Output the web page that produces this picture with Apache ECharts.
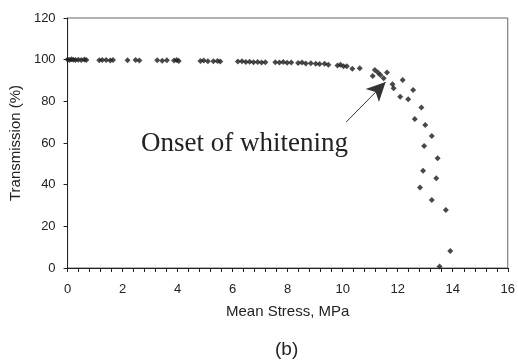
<!DOCTYPE html>
<html>
<head>
<meta charset="utf-8">
<script src="https://cdn.jsdelivr.net/npm/echarts@6/dist/echarts.min.js"></script>
<style>
  html, body { margin: 0; padding: 0; background: #fff; }
  #main { width: 518px; height: 363px; }
</style>
</head>
<body>
<div id="main"></div>
<script>
// mean stress (MPa)
var stress = [
  0, 0.07, 0.14, 0.21, 0.29, 0.39, 0.5, 0.61, 0.68,
  1.15, 1.26, 1.4, 1.55, 1.65,
  2.18, 2.47, 2.61,
  3.26, 3.44, 3.61, 3.87, 3.97, 4.04,
  4.83, 4.95, 5.1, 5.3, 5.45, 5.55,
  6.19, 6.34, 6.48, 6.62, 6.76, 6.91, 7.05, 7.19,
  7.55, 7.7, 7.84, 7.98, 8.13,
  8.38, 8.52, 8.66, 8.84, 9.02, 9.16, 9.34, 9.48,
  9.81, 9.92, 10.03, 10.15, 10.35, 10.62,
  11.17, 11.28, 11.09, 11.37, 11.61, 11.49,
  11.81, 11.85, 12.18, 12.56, 12.09, 12.38,
  12.86, 12.62, 13.0, 13.24, 12.96, 13.45, 12.92, 13.4, 12.81, 13.24, 13.75, 13.91, 13.52
];
// transmission (%)
var transmission = [
  100.1, 99.9, 100.2, 100, 99.8, 100, 99.9, 100.1, 99.8,
  99.7, 99.9, 99.8, 99.6, 99.8,
  99.7, 99.8, 99.6,
  99.7, 99.5, 99.7, 99.6, 99.8, 99.4,
  99.4, 99.6, 99.3, 99.2, 99.4, 99.1,
  99.1, 99.2, 98.9, 99.0, 98.8, 98.9, 98.7, 98.8,
  98.8, 98.6, 98.9, 98.5, 98.7,
  98.4, 98.6, 98.2, 98.3, 98.0, 97.9, 98.1, 97.6,
  97.2, 97.6, 96.8, 96.9, 95.6, 95.9,
  95.1, 93.9, 92.2, 92.7, 93.8, 91.1,
  88.2, 86.3, 90.3, 85.5, 82.2, 81.0,
  77.0, 71.5, 68.7, 63.4, 58.6, 52.7, 46.7, 43.1, 38.7, 32.6, 27.8, 8.2, 0.7
];
// annotation arrow: tail and tip in data units
var arrowTail = [10.13, 70.1];
var arrowTip = [11.56, 89.3];
var noteText = 'Onset of whitening';
var panelText = '(b)';

var points = stress.map(function (x, i) { return [x, transmission[i]]; });

var sans = "'Liberation Sans', Arial, sans-serif";
var chart = echarts.init(document.getElementById('main'));

chart.setOption({
  animation: false,
  grid: {
    left: 64, right: 7, top: 18, bottom: 95,
    show: true, borderColor: '#666', borderWidth: 1
  },
  xAxis: {
    type: 'value',
    min: 0, max: 16, interval: 2,
    name: 'Mean Stress, MPa',
    nameLocation: 'middle',
    nameGap: 36,
    nameTextStyle: { fontFamily: sans, fontSize: 15, color: '#222' },
    axisLine: { onZero: false, lineStyle: { color: '#222', width: 1 } },
    axisTick: { show: true, length: 4, lineStyle: { color: '#222' } },
    minorTick: { show: true, splitNumber: 5, length: 4, lineStyle: { color: '#222' } },
    axisLabel: { fontFamily: sans, fontSize: 13, color: '#222', margin: 15 },
    splitLine: { show: false }
  },
  yAxis: {
    type: 'value',
    min: 0, max: 120, interval: 20,
    name: 'Transmission (%)',
    nameLocation: 'middle',
    nameGap: 35,
    nameTextStyle: { fontFamily: sans, fontSize: 15, color: '#222' },
    axisLine: { show: true, lineStyle: { color: '#222', width: 1 } },
    axisTick: { show: true, length: 4, lineStyle: { color: '#222' } },
    axisLabel: { fontFamily: sans, fontSize: 13, color: '#222', margin: 12 },
    splitLine: { show: false }
  },
  series: [{
    type: 'scatter',
    data: points,
    symbol: 'diamond',
    symbolSize: 6,
    itemStyle: { color: '#1c1c1c' },
    markLine: {
      silent: true,
      symbol: ['none', 'arrow'],
      symbolSize: [14, 19],
      label: { show: false },
      lineStyle: { color: '#333', width: 1, type: 'solid' },
      data: [[{ coord: arrowTail }, { coord: arrowTip }]]
    }
  }],
  graphic: [
    {
      type: 'text', left: 141, top: 130,
      style: { text: noteText, font: "27px 'Liberation Serif', 'Times New Roman', serif", fill: '#222' }
    },
    {
      type: 'text', left: 275, top: 340,
      style: { text: panelText, font: "19px " + sans, fill: '#222' }
    }
  ]
});
</script>
</body>
</html>
